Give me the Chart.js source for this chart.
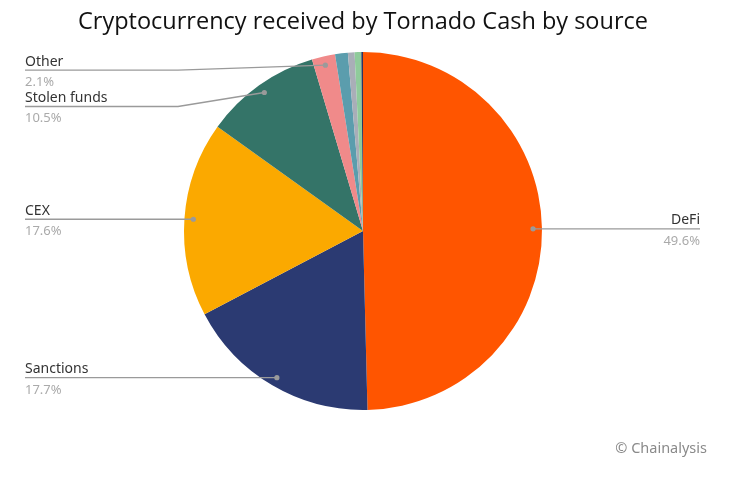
<!DOCTYPE html>
<html>
<head>
<meta charset="utf-8">
<script src="https://cdn.jsdelivr.net/npm/chart.js@4/dist/chart.umd.min.js"></script>
<style>
  html, body { margin: 0; padding: 0; background: #ffffff; }
  #wrap { width: 746px; height: 480px; position: relative; }
</style>
</head>
<body>
<div id="wrap"><canvas id="c" width="746" height="480"></canvas></div>
<script>
// ---- Data ----
const categories = ["DeFi", "Sanctions", "CEX", "Stolen funds", "Other", "Other source A", "Other source B", "Other source C", "Other source D"];
const shares = [49.6, 17.7, 17.6, 10.5, 2.1, 1.15, 0.6, 0.6, 0.15];
const labeledCategories = ["DeFi", "Sanctions", "CEX", "Stolen funds", "Other"];
const valueLabels = ["49.6%", "17.7%", "17.6%", "10.5%", "2.1%"];
const sliceColors = ["#FF5500", "#2B3A72", "#FBA900", "#347468", "#F08A8A", "#5B9DAD", "#A9AEB8", "#8FCB9B", "#2A3560"];

// label layout (styles/positions kept separate from data)
const labelLayout = {
  "DeFi":         { side: "right", textX: 700 },
  "Sanctions":    { side: "left",  textX: 25 },
  "CEX":          { side: "left",  textX: 25 },
  "Stolen funds": { side: "left",  textX: 25, elbowX: 178, dy: 14 },
  "Other":        { side: "left",  textX: 25, elbowX: 178, dy: 5 }
};

const leaderPlugin = {
  id: 'leaders',
  afterDatasetsDraw(chart) {
    const ctx = chart.ctx;
    const meta = chart.getDatasetMeta(0);
    ctx.save();
    labeledCategories.forEach((name, li) => {
      const idx = categories.indexOf(name);
      const arc = meta.data[idx];
      const mid = (arc.startAngle + arc.endAngle) / 2;
      const r = arc.outerRadius * 0.95;
      const px = arc.x + Math.cos(mid) * r;
      const py = arc.y + Math.sin(mid) * r;
      const L = labelLayout[name];
      const lineY = py + (L.dy || 0);
      const elbowX = L.elbowX !== undefined ? L.elbowX : px;
      ctx.strokeStyle = '#9a9a9a';
      ctx.lineWidth = 1.3;
      ctx.beginPath();
      ctx.moveTo(px, py);
      ctx.lineTo(elbowX, lineY);
      ctx.lineTo(L.textX, lineY);
      ctx.stroke();
      ctx.fillStyle = '#9a9a9a';
      ctx.beginPath();
      ctx.arc(px, py, 2.6, 0, Math.PI * 2);
      ctx.fill();
      ctx.textAlign = L.side === 'right' ? 'right' : 'left';
      ctx.textBaseline = 'alphabetic';
      ctx.font = '14px "Noto Sans", sans-serif';
      ctx.fillStyle = '#333333';
      ctx.fillText(name, L.textX, lineY - 4.5);
      ctx.font = '13px "Noto Sans", sans-serif';
      ctx.fillStyle = '#aaaaaa';
      ctx.fillText(valueLabels[li], L.textX, lineY + 16);
    });
    ctx.font = '14.5px "Noto Sans", sans-serif';
    ctx.fillStyle = '#8a8a8a';
    ctx.textAlign = 'right';
    ctx.textBaseline = 'middle';
    ctx.fillText('\u00A9 Chainalysis', 707, 449);
    ctx.restore();
  }
};

new Chart(document.getElementById('c'), {
  type: 'pie',
  data: {
    labels: categories,
    datasets: [{
      data: shares,
      backgroundColor: sliceColors,
      borderWidth: 0
    }]
  },
  options: {
    responsive: false,
    animation: false,
    layout: { padding: { left: 0, right: 20, top: 0, bottom: 70 } },
    plugins: {
      legend: { display: false },
      tooltip: { enabled: false },
      title: {
        display: true,
        text: 'Cryptocurrency received by Tornado Cash by source',
        color: '#111111',
        font: { family: '"Open Sans", sans-serif', size: 23.5, weight: 'normal' },
        padding: { top: 8, bottom: 15.8 }
      }
    }
  },
  plugins: [leaderPlugin]
});
</script>
</body>
</html>
